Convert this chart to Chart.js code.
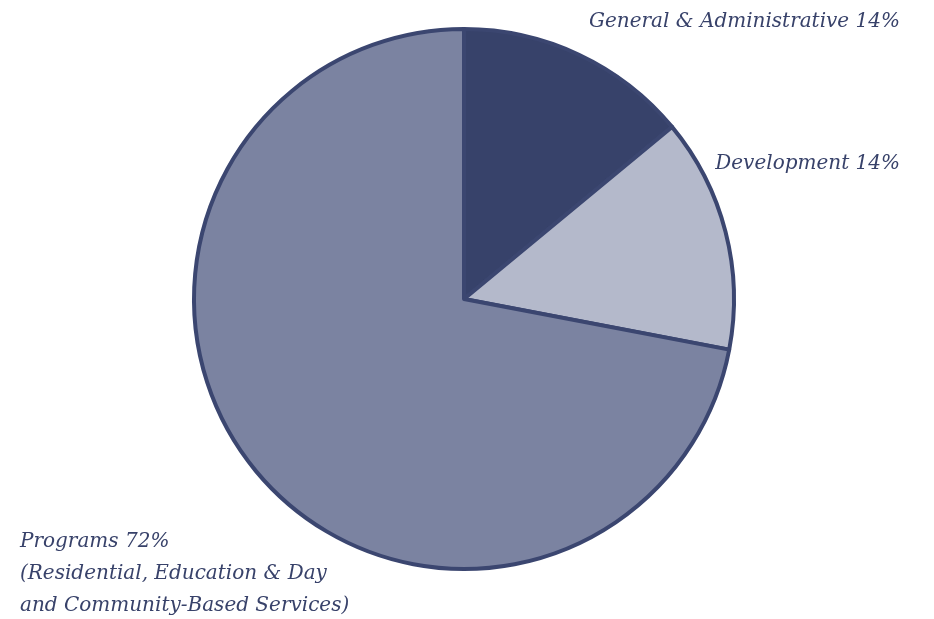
<!DOCTYPE html>
<html>
<head>
<meta charset="utf-8">
<script src="https://cdn.jsdelivr.net/npm/chart.js@4.4.0/dist/chart.umd.min.js"></script>
<style>
  html, body { margin: 0; padding: 0; background: #ffffff; }
  #wrap { position: relative; width: 934px; height: 619px; }
</style>
</head>
<body>
<div id="wrap"><canvas id="c" width="934" height="619"></canvas></div>
<script>
// Data
const categories = ["General & Administrative", "Development", "Programs"];
const values = [14, 14, 72];
const labelLines = [
  ["General & Administrative 14%"],
  ["Development 14%"],
  ["Programs 72%", "(Residential, Education & Day", "and Community-Based Services)"]
];
const sliceColors = ["#37426a", "#b4b9cb", "#7b83a1"];

const labelPlugin = {
  id: "sliceLabels",
  afterDraw(chart) {
    const ctx = chart.ctx;
    ctx.save();
    ctx.fillStyle = "#38426a";
    ctx.font = "italic 20px 'DejaVu Serif'";
    ctx.textBaseline = "alphabetic";
    ctx.textAlign = "right";
    ctx.fillText(labelLines[0][0], 900, 27);
    ctx.fillText(labelLines[1][0], 900, 169);
    ctx.textAlign = "left";
    labelLines[2].forEach((t, i) => ctx.fillText(t, 20, 547 + i * 32));
    ctx.restore();
  }
};

new Chart(document.getElementById("c"), {
  type: "pie",
  data: {
    labels: categories,
    datasets: [{
      data: values,
      backgroundColor: sliceColors,
      borderColor: "#3b4670",
      borderWidth: 4,
      borderJoinStyle: "round"
    }]
  },
  options: {
    responsive: false,
    animation: false,
    devicePixelRatio: 1,
    layout: { padding: { top: 27, bottom: 48, left: 192, right: 198 } },
    plugins: { legend: { display: false }, tooltip: { enabled: false } }
  },
  plugins: [labelPlugin]
});
</script>
</body>
</html>
